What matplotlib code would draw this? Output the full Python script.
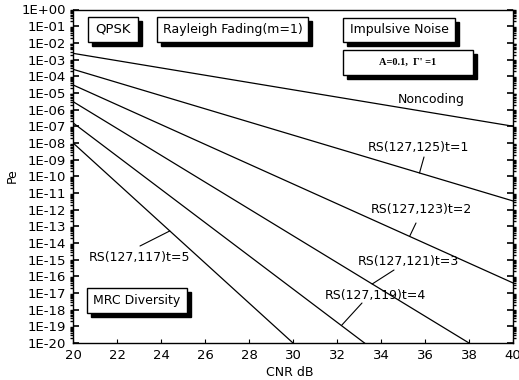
import matplotlib
matplotlib.use("Agg")
import matplotlib.pyplot as plt
import matplotlib.ticker as mticker
import matplotlib.transforms as mtransforms
from matplotlib.patches import Rectangle
import numpy as np

# data (CNR in dB, error probability)
noncoding_cnr = [20, 40]
noncoding_pe = [2.35e-3, 1.0e-7]
rs125_cnr = [20, 40]
rs125_pe = [2.6e-4, 3.3e-12]
rs123_cnr = [20, 40]
rs123_pe = [3.0e-5, 4.0e-17]
rs121_cnr = [20, 38.0]
rs121_pe = [3.0e-6, 1e-20]
rs119_cnr = [20, 33.25]
rs119_pe = [1.6e-7, 1e-20]
rs117_cnr = [20, 30.0]
rs117_pe = [1.0e-8, 1e-20]

x_ticks = [20, 22, 24, 26, 28, 30, 32, 34, 36, 38, 40]

W, H = 519, 380
fig = plt.figure(figsize=(W / 100, H / 100), dpi=100)
ax = fig.add_axes([73 / W, 1 - 343 / H, 440 / W, (343 - 9.5) / H])

# image pixel coordinates (y down) -> display
img = mtransforms.Affine2D().scale(1 / W, -1 / H).translate(0, 1) + fig.transFigure

series = [
    (noncoding_cnr, noncoding_pe),
    (rs125_cnr, rs125_pe),
    (rs123_cnr, rs123_pe),
    (rs121_cnr, rs121_pe),
    (rs119_cnr, rs119_pe),
    (rs117_cnr, rs117_pe),
]
for cnr, pe in series:
    ax.plot(cnr, pe, color="black", lw=0.9)

ax.set_yscale("log")
ax.set_xlim(20, 40)
ax.set_ylim(1e-20, 1)
ax.set_xticks(x_ticks)
ax.yaxis.set_major_locator(mticker.LogLocator(base=10, numticks=30))
ax.yaxis.set_minor_locator(mticker.LogLocator(base=10, subs=np.arange(2, 10), numticks=30))
ax.yaxis.set_minor_formatter(mticker.NullFormatter())
ax.yaxis.set_major_formatter(
    mticker.FuncFormatter(lambda v, _: f"1E{int(round(np.log10(v))):+03d}"))
ax.tick_params(axis="both", direction="in", colors="black")
ax.tick_params(axis="y", which="both", right=True)
ax.tick_params(axis="y", which="major", length=4, width=1.2, labelsize=9.5, pad=5)
ax.tick_params(axis="y", which="minor", length=2.5, width=1.0)
ax.tick_params(axis="x", length=3, pad=4, labelsize=9.5)
for s in ax.spines.values():
    s.set_linewidth(1.0)

fig.text(12 / W, 1 - 176 / H, "Pe", rotation=90, ha="center", va="center", fontsize=9)
fig.text(290 / W, 1 - 372 / H, "CNR dB", ha="center", va="center", fontsize=9)


def box(x0, y0, x1, y1, label, **kw):
    ax.add_patch(Rectangle((x0 + 4, y0 + 4), x1 - x0, y1 - y0, transform=img,
                           facecolor="black", edgecolor="black", clip_on=False, zorder=3))
    ax.add_patch(Rectangle((x0, y0), x1 - x0, y1 - y0, transform=img,
                           facecolor="white", edgecolor="black", lw=1.0, clip_on=False, zorder=4))
    ax.text((x0 + x1) / 2, (y0 + y1) / 2, label, transform=img, ha="center",
            va="center", zorder=5, **kw)


box(88, 17, 138, 42, "QPSK", fontsize=9.5)
box(157, 17, 308, 42, "Rayleigh Fading(m=1)", fontsize=9)
box(343, 18, 455, 42, "Impulsive Noise", fontsize=9)
box(343, 50, 473, 75, "A=0.1,  Γ' =1", fontsize=7.5, family="Liberation Serif",
    fontweight="bold")
box(87, 288, 187, 313, "MRC Diversity", fontsize=9)

ax.text(431, 99, "Noncoding", transform=img, ha="center", va="center", fontsize=9)


def on_line(cnr, pe, x):
    return 10 ** np.interp(x, cnr, np.log10(pe))


labels = [
    ("RS(127,125)t=1", (418, 147), (424, 157), rs125_cnr, rs125_pe, 35.75),
    ("RS(127,123)t=2", (421, 210), (416, 223), rs123_cnr, rs123_pe, 35.3),
    ("RS(127,121)t=3", (408, 261), (394, 270), rs121_cnr, rs121_pe, 33.6),
    ("RS(127,119)t=4", (375, 295), (362, 303), rs119_cnr, rs119_pe, 32.2),
    ("RS(127,117)t=5", (140, 257), (140, 246), rs117_cnr, rs117_pe, 24.4),
]
for text, tpos, lstart, cnr, pe, xhit in labels:
    ax.text(tpos[0], tpos[1], text, transform=img, ha="center", va="center", fontsize=9)
    ax.annotate("", xy=(xhit, on_line(cnr, pe, xhit)), xycoords="data",
                xytext=lstart, textcoords=img,
                arrowprops=dict(arrowstyle="-", lw=0.8, color="black",
                                shrinkA=0, shrinkB=0))

fig.savefig("out.png", dpi=100)
